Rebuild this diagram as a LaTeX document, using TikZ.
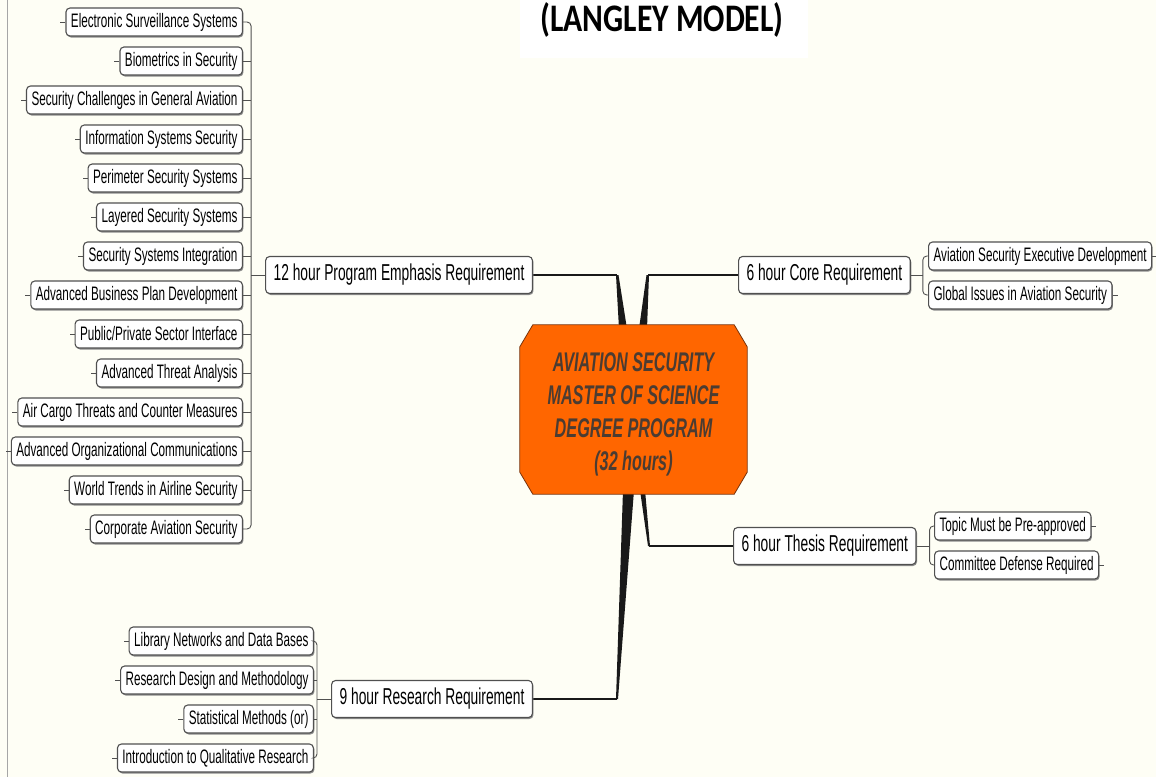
\documentclass[tikz,border=0pt]{standalone}
\usepackage{fontspec}
\setmainfont{Liberation Sans}[FakeStretch=0.6]
\newfontfamily\titlefont{Carlito}[FakeStretch=0.81]
\usetikzlibrary{calc,backgrounds,shadows}

\definecolor{paper}{RGB}{254,254,245}
\definecolor{hubfill}{RGB}{255,102,0}
\definecolor{hubedge}{RGB}{120,50,10}
\definecolor{hubtext}{RGB}{75,60,50}
\definecolor{boxedge}{RGB}{80,80,80}
\definecolor{wirecol}{RGB}{25,25,25}

\tikzset{
  topic/.style={draw=boxedge, line width=1.1pt, fill=white, rounded corners=4pt,
    inner xsep=5pt, inner ysep=0pt, minimum height=28pt,
    font=\fontsize{19.5}{21}\selectfont,
    drop shadow={shadow xshift=1pt, shadow yshift=-1.5pt, fill=black!45, opacity=1}},
  branch/.style={topic, inner xsep=8pt, minimum height=37pt,
    font=\fontsize{23}{25}\selectfont},
  wire/.style={draw=wirecol, line width=1.4pt},
  stub/.style={draw=boxedge, line width=0.9pt},
}

\begin{document}
\begin{tikzpicture}[x=1pt, y=-1pt]
\useasboundingbox (0,0) rectangle (1156,777);

% title
\node[font=\titlefont\bfseries\fontsize{39}{40}\selectfont] (title) at (662,20) {(LANGLEY MODEL)};

% central topic
\node[minimum width=227pt, minimum height=169pt, align=center, text=hubtext,
  font=\fontsize{27}{33}\selectfont\bfseries\itshape] (hub) at (633.5,409.5)
  {\parbox{220pt}{\centering\vspace*{9pt}AVIATION SECURITY\\MASTER OF SCIENCE\\DEGREE PROGRAM\\(32 hours)}};

% main branches
\node[branch, anchor=east] (emph) at (533,275) {12 hour Program Emphasis Requirement};
\node[branch, anchor=west] (core) at (738,275) {6 hour Core Requirement};
\node[branch, anchor=west] (thesis) at (733,546) {6 hour Thesis Requirement};
\node[branch, anchor=east] (research) at (533,699) {9 hour Research Requirement};

% emphasis courses
\node[topic, anchor=east] (l1) at (243,22) {Electronic Surveillance Systems};
\node[topic, anchor=east] (l2) at (243,61) {Biometrics in Security};
\node[topic, anchor=east] (l3) at (243,100) {Security Challenges in General Aviation};
\node[topic, anchor=east] (l4) at (243,139) {Information Systems Security};
\node[topic, anchor=east] (l5) at (243,178) {Perimeter Security Systems};
\node[topic, anchor=east] (l6) at (243,217) {Layered Security Systems};
\node[topic, anchor=east] (l7) at (243,256) {Security Systems Integration};
\node[topic, anchor=east] (l8) at (243,295) {Advanced Business Plan Development};
\node[topic, anchor=east] (l9) at (243,334) {Public/Private Sector Interface\ };
\node[topic, anchor=east] (l10) at (243,373) {Advanced Threat Analysis};
\node[topic, anchor=east] (l11) at (243,412) {Air Cargo Threats and Counter Measures};
\node[topic, anchor=east] (l12) at (243,451) {Advanced Organizational Communications};
\node[topic, anchor=east] (l13) at (243,490) {World Trends in Airline Security};
\node[topic, anchor=east] (l14) at (243,529) {Corporate Aviation Security\ };

% core courses
\node[topic, anchor=west] (c1) at (928,256) {Aviation Security Executive Development};
\node[topic, anchor=west] (c2) at (928,295) {Global Issues in Aviation Security};

% thesis items
\node[topic, anchor=west] (t1) at (934,526) {Topic Must be Pre-approved};
\node[topic, anchor=west] (t2) at (934,565) {Committee Defense Required};

% research courses
\node[topic, anchor=east] (r1) at (314,641) {Library Networks and Data Bases};
\node[topic, anchor=east] (r2) at (314,680) {Research Design and Methodology};
\node[topic, anchor=east] (r3) at (314,719) {Statistical Methods (or)};
\node[topic, anchor=east] (r4) at (314,758) {Introduction to Qualitative Research};

% junctions of the main branch lines
\coordinate (j1) at (617,275);
\coordinate (j2) at (648,275);
\coordinate (j3) at (649,546);
\coordinate (j4) at (617,699);

% bracket spines
\coordinate (ls) at ($(emph.west)+(-14,0)$);
\coordinate (cs) at ($(core.east)+(12,0)$);
\coordinate (ts) at ($(thesis.east)+(13,0)$);
\coordinate (rs) at ($(research.west)+(-14,0)$);

\begin{scope}[on background layer]
  \fill[paper] (0,0) rectangle (1156,777);
  \draw[gray!70, line width=1pt] (7,0) -- (7,777);
  \fill[white] (520,0) rectangle (808,58);

  % branch lines and tapered stems
  \draw[wire] (emph.east) -- (j1);
  \draw[wire] (j2) -- (core.west);
  \draw[wire] (j3) -- (thesis.west);
  \draw[wire] (research.east) -- (j4);
  \fill[wirecol] ($(j1)+(-1,0)$) -- ($(j1)+(1.5,0)$) -- ($(hub.north)+(-6.5,4)$) -- ($(hub.north)+(-14.5,4)$) -- cycle;
  \fill[wirecol] ($(j2)+(-1.5,0)$) -- ($(j2)+(1,0)$) -- ($(hub.north)+(13.5,4)$) -- ($(hub.north)+(5.5,4)$) -- cycle;
  \fill[wirecol] ($(hub.south)+(-10.5,-4)$) -- ($(hub.south)+(0.5,-4)$) -- ($(j4)+(1,0)$) -- ($(j4)+(-1,0)$) -- cycle;
  \fill[wirecol] ($(hub.south)+(6.5,-4)$) -- ($(hub.south)+(11.5,-4)$) -- ($(j3)+(1,0)$) -- ($(j3)+(-1,0)$) -- cycle;

  % central octagon
  \filldraw[fill=hubfill, draw=hubedge, line width=0.8pt]
    ($(hub.north west)+(13,0)$) -- ($(hub.north east)+(-13,0)$) --
    ($(hub.north east)+(0,22)$) -- ($(hub.south east)+(0,-22)$) --
    ($(hub.south east)+(-13,0)$) -- ($(hub.south west)+(13,0)$) --
    ($(hub.south west)+(0,-22)$) -- ($(hub.north west)+(0,22)$) -- cycle;
\end{scope}

% emphasis bracket
\draw[stub, rounded corners=4pt] (l1.east) -| (ls) |- (l14.east);
\foreach \i in {2,...,13} \draw[stub] (l\i.east) -- (l\i.east -| ls);
\draw[stub] (emph.west) -- (ls);
\foreach \i in {1,...,14} \draw[stub] (l\i.west) -- ++(-5,0);

% core bracket
\draw[stub, rounded corners=4pt] (c1.west) -| (cs) |- (c2.west);
\draw[stub] (core.east) -- (cs);
\foreach \n in {c1,c2} \draw[stub] (\n.east) -- ++(5,0);

% thesis bracket
\draw[stub, rounded corners=4pt] (t1.west) -| (ts) |- (t2.west);
\draw[stub] (thesis.east) -- (ts);
\foreach \n in {t1,t2} \draw[stub] (\n.east) -- ++(5,0);

% research bracket
\draw[stub, rounded corners=4pt] (r1.east) -| (rs) |- (r4.east);
\foreach \n in {r2,r3} \draw[stub] (\n.east) -- (\n.east -| rs);
\draw[stub] (research.west) -- (rs);
\foreach \n in {r1,r2,r3,r4} \draw[stub] (\n.west) -- ++(-5,0);
\end{tikzpicture}
\end{document}
